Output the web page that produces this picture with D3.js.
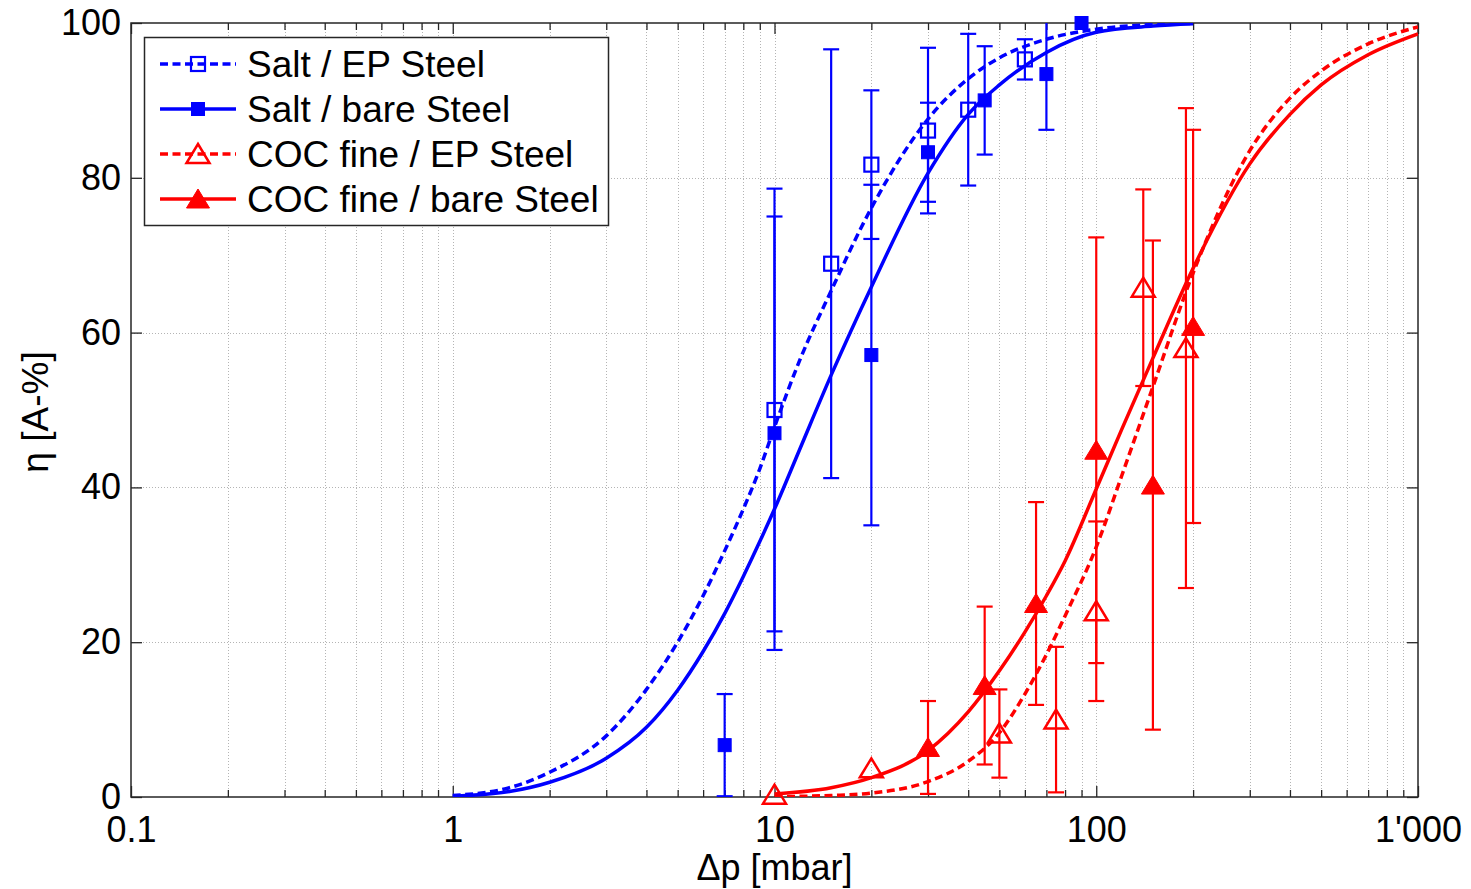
<!DOCTYPE html>
<html><head><meta charset="utf-8">
<script src="https://cdn.jsdelivr.net/npm/d3@7"></script>
<style>body{margin:0;background:#fff;} svg{display:block;font-family:"Liberation Sans",Arial,sans-serif;}</style>
</head><body>
<svg id="chart" width="1471" height="889"></svg>
<script>
// ---------- data ----------
const xTickValues = [0.1, 1, 10, 100, 1000];
const xTickLabels = ["0.1", "1", "10", "100", "1'000"];
const yTickValues = [0, 20, 40, 60, 80, 100];
const yTickLabels = ["0", "20", "40", "60", "80", "100"];

const seriesNames = ["Salt / EP Steel", "Salt / bare Steel", "COC fine / EP Steel", "COC fine / bare Steel"];

// measured points
const saltEP_x   = [10, 15, 20, 30, 40, 60];
const saltEP_y   = [50.0, 68.9, 81.7, 86.1, 88.8, 95.3];
const saltEP_err = [28.6, 27.7, 9.6, 10.7, 9.8, 2.6];

const saltBare_x   = [7, 10, 20, 30, 45, 70, 90];
const saltBare_y   = [6.7, 47.0, 57.1, 83.3, 90.0, 93.4, 100];
const saltBare_err = [6.6, 28.0, 22.0, 6.4, 7.0, 7.2, 0];

const cocEP_x   = [10, 20, 50, 75, 100, 140, 190];
const cocEP_y   = [0.3, 3.7, 8.2, 10.0, 24.0, 65.8, 58.0];
const cocEP_err = [0, 0, 5.7, 9.4, 11.6, 12.7, 31.0];

const cocBare_x   = [30, 45, 65, 100, 150, 200];
const cocBare_y   = [6.4, 14.4, 25.0, 44.8, 40.3, 60.8];
const cocBare_err = [6.0, 10.2, 13.1, 27.5, 31.6, 25.4];

// fitted curves
const saltEPfit_x = [1, 1.5, 2, 3, 4, 5, 6, 7, 8, 9, 10, 12, 15, 20, 30, 40, 50, 70, 100, 150, 200];
const saltEPfit_y = [0.2, 1.2, 3.2, 7.9, 13.9, 20.0, 26.0, 31.8, 37.2, 42.4, 47.8, 56.5, 65.4, 76.1, 87.6, 92.8, 95.5, 97.9, 99.2, 99.8, 99.95];

const saltBarefit_x = [1, 1.5, 2, 3, 4, 5, 6, 7, 8, 9, 10, 12, 15, 20, 30, 40, 50, 70, 100, 150, 200];
const saltBarefit_y = [0.1, 0.7, 1.9, 5.0, 9.0, 13.8, 18.8, 23.7, 28.5, 33.0, 37.2, 45.0, 54.5, 65.9, 80.6, 88.2, 92.0, 96.2, 98.8, 99.6, 99.9];

const cocEPfit_x = [10, 15, 20, 30, 40, 50, 60, 70, 80, 100, 120, 150, 200, 300, 400, 500, 700, 1000];
const cocEPfit_y = [0.05, 0.2, 0.5, 2.0, 4.6, 8.3, 13.3, 18.4, 23.4, 32.3, 41.5, 53.0, 67.7, 83.5, 90.3, 93.8, 97.3, 99.5];

const cocBarefit_x = [10, 15, 20, 30, 40, 50, 60, 70, 80, 100, 120, 150, 200, 300, 400, 500, 700, 1000];
const cocBarefit_y = [0.4, 1.2, 2.5, 6.0, 11.0, 16.3, 21.3, 26.0, 30.5, 39.8, 47.5, 56.7, 68.3, 81.8, 88.2, 92.0, 95.9, 98.6];

// ---------- build ----------
const zip = (xs, ys, es) => xs.map((x, i) => ({x, y: ys[i], e: es ? es[i] : 0}));
const series = [
  {name: seriesNames[0], color: "#0000ff", dashed: true,  marker: "square",   filled: false, pts: zip(saltEP_x, saltEP_y, saltEP_err),   fit: zip(saltEPfit_x, saltEPfit_y)},
  {name: seriesNames[1], color: "#0000ff", dashed: false, marker: "square",   filled: true,  pts: zip(saltBare_x, saltBare_y, saltBare_err), fit: zip(saltBarefit_x, saltBarefit_y)},
  {name: seriesNames[2], color: "#ff0000", dashed: true,  marker: "triangle", filled: false, pts: zip(cocEP_x, cocEP_y, cocEP_err),     fit: zip(cocEPfit_x, cocEPfit_y)},
  {name: seriesNames[3], color: "#ff0000", dashed: false, marker: "triangle", filled: true,  pts: zip(cocBare_x, cocBare_y, cocBare_err), fit: zip(cocBarefit_x, cocBarefit_y)}
];

const svg = d3.select("#chart");
const L = 131, R = 1418, T = 23, B = 797;
const x = d3.scaleLog().domain([0.1, 1000]).range([L, R]);
const y = d3.scaleLinear().domain([0, 100]).range([B, T]);

svg.append("defs").append("clipPath").attr("id", "plotclip")
  .append("rect").attr("x", L).attr("y", T).attr("width", R - L).attr("height", B - T);

// minor tick values
const minorX = [];
[0.1, 1, 10, 100].forEach(d => { for (let k = 2; k <= 9; k++) minorX.push(d * k); });

// grid
const grid = svg.append("g").attr("stroke", "#b4b4b4").attr("stroke-width", 1).attr("stroke-dasharray", "1,2");
grid.selectAll("line.gx").data(minorX.concat(xTickValues.slice(1, -1))).join("line")
  .attr("x1", d => Math.round(x(d)) + 0.5).attr("x2", d => Math.round(x(d)) + 0.5).attr("y1", T).attr("y2", B);
grid.selectAll("line.gy").data(yTickValues.slice(1, -1)).join("line")
  .attr("y1", d => Math.round(y(d)) + 0.5).attr("y2", d => Math.round(y(d)) + 0.5).attr("x1", L).attr("x2", R);

// axes with inward ticks
const axisColor = "#262626";
const xb = svg.append("g").attr("transform", `translate(0,${B})`)
  .call(d3.axisBottom(x).tickValues(xTickValues).tickFormat((d, i) => xTickLabels[i]).tickSizeInner(-11).tickSizeOuter(0).tickPadding(19));
const xbm = svg.append("g").attr("transform", `translate(0,${B})`)
  .call(d3.axisBottom(x).tickValues(minorX).tickFormat("").tickSizeInner(-7).tickSizeOuter(0));
const xt = svg.append("g").attr("transform", `translate(0,${T})`)
  .call(d3.axisTop(x).tickValues(xTickValues).tickFormat("").tickSizeInner(-11).tickSizeOuter(0));
const xtm = svg.append("g").attr("transform", `translate(0,${T})`)
  .call(d3.axisTop(x).tickValues(minorX).tickFormat("").tickSizeInner(-7).tickSizeOuter(0));
const yl = svg.append("g").attr("transform", `translate(${L},0)`)
  .call(d3.axisLeft(y).tickValues(yTickValues).tickFormat((d, i) => yTickLabels[i]).tickSizeInner(-11).tickSizeOuter(0).tickPadding(10));
const yr = svg.append("g").attr("transform", `translate(${R},0)`)
  .call(d3.axisRight(y).tickValues(yTickValues).tickFormat("").tickSizeInner(-11).tickSizeOuter(0));
[xb, xbm, xt, xtm, yl, yr].forEach(g => {
  g.select(".domain").remove();
  g.selectAll(".tick line").attr("stroke", axisColor).attr("stroke-width", 1.3);
  g.selectAll("text").attr("fill", "#000").style("font-size", "36px").style("font-family", "'Liberation Sans', Arial, sans-serif");
});
xb.selectAll("text").attr("dy", "0.71em");

svg.append("rect").attr("x", L).attr("y", T).attr("width", R - L).attr("height", B - T)
  .attr("fill", "none").attr("stroke", axisColor).attr("stroke-width", 1.5);

// axis titles
svg.append("text").attr("x", (L + R) / 2).attr("y", 880).attr("text-anchor", "middle")
  .style("font-size", "36px").text("\u0394p [mbar]");
svg.append("text").attr("transform", "translate(48,412) rotate(-90)").attr("text-anchor", "middle")
  .style("font-size", "37px").text("\u03B7 [A-%]");

// markers
const triPath = "M0,-10 L11.5,9 L-11.5,9 Z";
function drawMarker(g, s, cx, cy) {
  if (s.marker === "square") {
    const h = s.filled ? 6.5 : 7;
    g.append("rect").attr("x", cx - h).attr("y", cy - h).attr("width", 2 * h).attr("height", 2 * h)
      .attr("fill", s.filled ? s.color : "none").attr("stroke", s.color).attr("stroke-width", s.filled ? 1 : 2.2);
  } else {
    g.append("path").attr("d", triPath).attr("transform", `translate(${cx},${cy})`)
      .attr("fill", s.filled ? s.color : "none").attr("stroke", s.color).attr("stroke-width", s.filled ? 1 : 2.5)
      .attr("stroke-linejoin", "miter");
  }
}

const line = d3.line().x(d => x(d.x)).y(d => y(d.y)).curve(d3.curveMonotoneX);
const plot = svg.append("g");
series.forEach(s => {
  const g = plot.append("g");
  // error bars (clipped)
  const eb = g.append("g").attr("clip-path", "url(#plotclip)").attr("stroke", s.color).attr("stroke-width", 2.2);
  s.pts.filter(p => p.e > 0).forEach(p => {
    const px = x(p.x), y1 = y(p.y + p.e), y0 = y(p.y - p.e);
    eb.append("line").attr("x1", px).attr("x2", px).attr("y1", y1).attr("y2", y0);
    eb.append("line").attr("x1", px - 8).attr("x2", px + 8).attr("y1", y1).attr("y2", y1);
    eb.append("line").attr("x1", px - 8).attr("x2", px + 8).attr("y1", y0).attr("y2", y0);
  });
  // fit curve
  g.append("path").datum(s.fit).attr("d", line).attr("clip-path", "url(#plotclip)")
    .attr("fill", "none").attr("stroke", s.color).attr("stroke-width", 3.5)
    .attr("stroke-dasharray", s.dashed ? "8,4.5" : null);
  // markers
  s.pts.forEach(p => drawMarker(g, s, x(p.x), y(p.y)));
});

// legend
const lg = svg.append("g");
lg.append("rect").attr("x", 144.5).attr("y", 37.5).attr("width", 464).attr("height", 188)
  .attr("fill", "#fff").attr("stroke", axisColor).attr("stroke-width", 1.5);
series.forEach((s, i) => {
  const cy = 64 + i * 45;
  lg.append("line").attr("x1", 160).attr("x2", 236).attr("y1", cy).attr("y2", cy)
    .attr("stroke", s.color).attr("stroke-width", 3.5).attr("stroke-dasharray", s.dashed ? "8,4.5" : null);
  drawMarker(lg, s, 198, cy);
  lg.append("text").attr("x", 247).attr("y", cy).attr("dy", "0.36em").style("font-size", "37px").text(s.name);
});
</script>
</body></html>
